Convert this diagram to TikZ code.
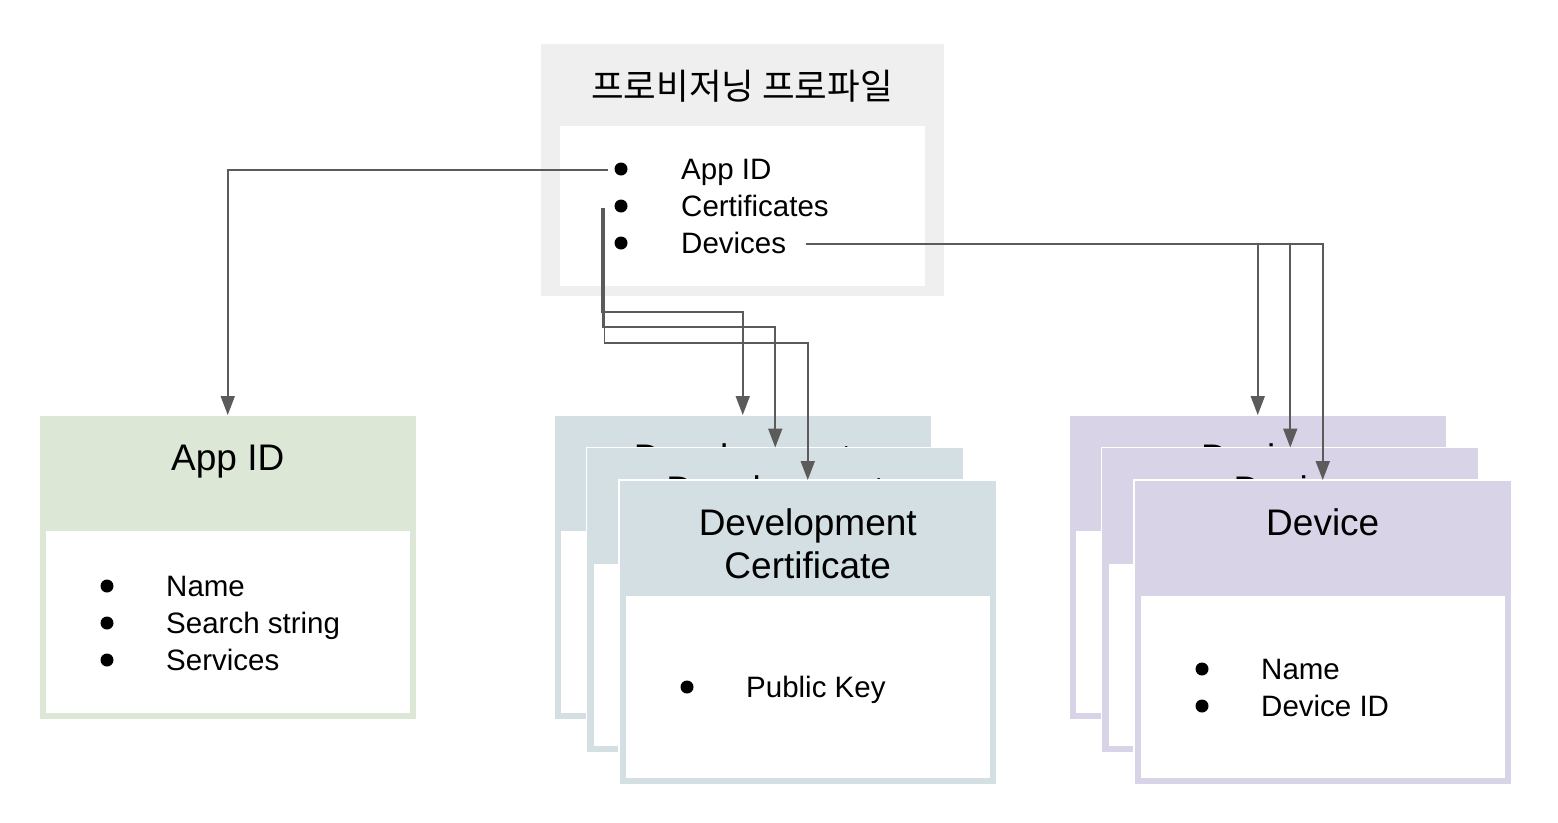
\documentclass[tikz,border=0pt]{standalone}
\usepackage{fontspec}
\setmainfont{Liberation Sans}
\newfontfamily\krfont{Noto Sans CJK KR}
\usetikzlibrary{arrows.meta}

\definecolor{topgray}{HTML}{EFEFEF}
\definecolor{appgreen}{HTML}{DCE7D6}
\definecolor{certblue}{HTML}{D3DFE3}
\definecolor{devpurple}{HTML}{D9D3E8}
\definecolor{arrowgray}{HTML}{5B5B5B}

% one card: coloured frame with a white body
\newcommand{\drawcard}[3]{%
    \fill[#3, draw=white, line width=1.5pt] (#1,#2) rectangle ++(\cardw,\cardh);
    \fill[white] (#1+\inset,#2+\headh) rectangle (#1+\cardw-\inset,#2+\cardh-\inset);
}

\begin{document}
\begin{tikzpicture}[x=1pt,y=-1pt,
    arr/.style={draw=arrowgray, line width=1.8pt, -{Triangle[width=14pt,length=19pt]}},
    item/.style={anchor=base west, inner sep=0pt, font=\fontsize{29.5}{35}\selectfont},
    dot/.style={circle, fill=black, inner sep=0pt, minimum size=13pt},
    cardtitle/.style={anchor=base, inner sep=0pt, font=\fontsize{37}{43}\selectfont, align=center}
]

% Card dimensions
\def\cardw{377.5}
\def\cardh{305}
\def\headh{116}
\def\inset{7}
\def\stackshift{32.5}

\fill[white] (0,0) rectangle (1558,822);
\useasboundingbox (0,0) rectangle (1558,822);

% Provisioning profile box
\fill[topgray] (541,44) rectangle (944,296);
\fill[white] (560,126) rectangle (925,286);
\node[font=\krfont\fontsize{35.5}{42}\selectfont] (prof-title) at (742,86) {프로비저닝 프로파일};
\foreach \i/\txt in {0/App ID,1/Certificates,2/Devices} {
    \node[dot] (prof-dot\i) at (621, 169+\i*37) {};
    \node[item] (prof-item\i) at (681, 179+\i*37) {\txt};
}

% App ID card
\drawcard{39}{415}{appgreen}
\coordinate (app-top) at (39+\cardw/2, 415);
\node[cardtitle] (app-title) at (39+\cardw/2, 470) {App ID};
\foreach \i/\txt in {0/Name,1/Search string,2/Services} {
    \node[dot] (app-dot\i) at (107, 586+\i*37) {};
    \node[item] (app-item\i) at (166, 596+\i*37) {\txt};
}

% Stack of certificate cards (list only on the front one)
\foreach \i in {0,1,2} {
    \pgfmathsetmacro{\cx}{554+\i*\stackshift}
    \pgfmathsetmacro{\cy}{415+\i*\stackshift}
    \drawcard{\cx}{\cy}{certblue}
    \coordinate (cert\i-top) at (\cx+\cardw/2, \cy);
    \node[cardtitle] (cert\i-title) at (\cx+\cardw/2, \cy+98) {Development\\Certificate};
}
\node[dot] (cert-dot) at (619+68, 480+207) {};
\node[item] (cert-key) at (619+127, 480+217) {Public Key};

% Stack of device cards (list only on the front one)
\foreach \i in {0,1,2} {
    \pgfmathsetmacro{\cx}{1069+\i*\stackshift}
    \pgfmathsetmacro{\cy}{415+\i*\stackshift}
    \drawcard{\cx}{\cy}{devpurple}
    \coordinate (dev\i-top) at (\cx+\cardw/2, \cy);
    \node[cardtitle] (dev\i-title) at (\cx+\cardw/2, \cy+55) {Device};
}
\foreach \j/\txt in {0/Name,1/Device ID} {
    \node[dot] (dev-dot\j) at (1134+68, 480+189+\j*37) {};
    \node[item] (dev-item\j) at (1134+127, 480+199+\j*37) {\txt};
}

% Connectors
\coordinate (appsrc) at (608,170);
\coordinate (certsrc) at (602,208);
\coordinate (devsrc) at (806,244);

\draw[arr] (appsrc) -| (app-top);
\foreach \i/\ty in {0/312,1/327,2/343} {
    \draw[arr] ([xshift=\i*1.2pt]certsrc) -- ++(0,\ty-208) -| (cert\i-top);
}
\foreach \i in {0,1,2} {
    \draw[arr] (devsrc) -| (dev\i-top);
}

\end{tikzpicture}
\end{document}
